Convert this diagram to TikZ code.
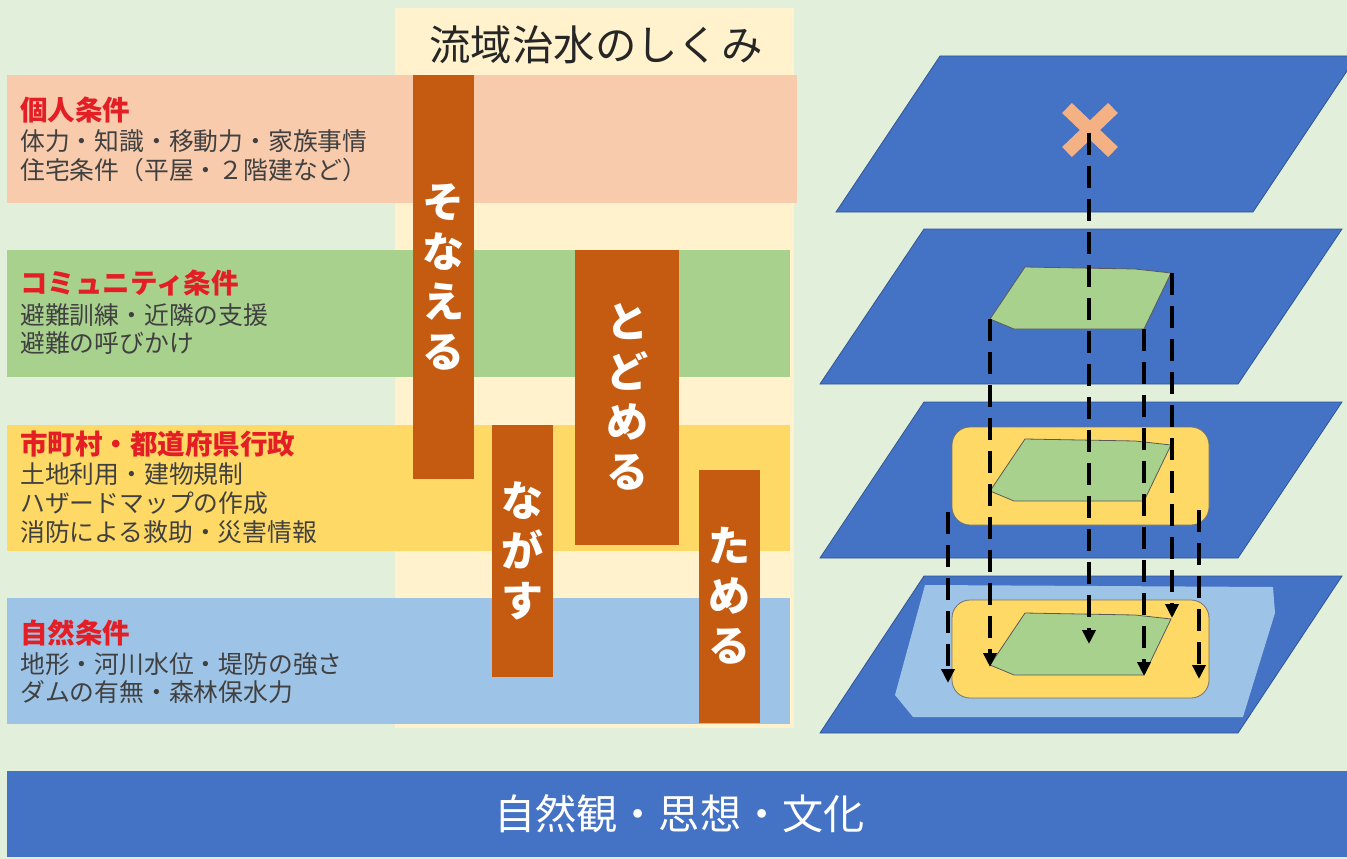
\documentclass[tikz,border=0pt]{standalone}
\usepackage{fontspec}
\setmainfont{Noto Sans CJK JP}
\usetikzlibrary{arrows.meta}
\definecolor{bg}{HTML}{E2EFDA}
\definecolor{cream}{HTML}{FFF2CC}
\definecolor{pinkband}{HTML}{F8CBAD}
\definecolor{greenband}{HTML}{A9D18E}
\definecolor{yellowband}{HTML}{FFD966}
\definecolor{blueband}{HTML}{9DC3E6}
\definecolor{barbrown}{HTML}{C55A11}
\definecolor{layerblue}{HTML}{4472C4}
\definecolor{layeredge}{HTML}{2F5597}
\definecolor{xorange}{HTML}{F4B183}
\definecolor{headred}{HTML}{E31E24}
\definecolor{bodygray}{HTML}{404040}
\definecolor{titlegray}{HTML}{262626}
\begin{document}
\begin{tikzpicture}[x=1pt,y=-1pt,
  barbox/.style={fill=barbrown, inner sep=0pt, text=white, align=center,
    font=\fontsize{42}{50}\selectfont\bfseries},
  headtext/.style={anchor=west, inner sep=0pt, text=headred,
    font=\fontsize{27.5}{30}\selectfont\bfseries},
  bodytext/.style={anchor=west, inner sep=0pt, text=bodygray,
    font=\fontsize{24.8}{28}\selectfont},
  layer/.style={fill=layerblue, draw=layeredge, line width=0.8pt},
  greenarea/.style={fill=greenband, draw=black!65, line width=0.8pt},
  yellowarea/.style={fill=yellowband, draw=black!55, line width=0.8pt, rounded corners=18pt},
  dasharrow/.style={draw=black, line width=4.6pt, dash pattern=on 22pt off 11pt,
    -{Triangle[length=14pt,width=13pt]}}
]
\useasboundingbox (0,0) rectangle (1347,859);
\fill[bg] (0,0) rectangle (1347,859);

% ---------- left part ----------
\fill[cream] (395,8) rectangle (794,728);
\node (title) [inner sep=0pt, text=titlegray, font=\fontsize{41.4}{44}\selectfont] at (596,45) {流域治水のしくみ};

\fill[pinkband]   (7,75)  rectangle (797,203);
\fill[greenband]  (7,250) rectangle (790,377);
\fill[yellowband] (7,425) rectangle (790,551);
\fill[blueband]   (7,598) rectangle (790,724);

\node (sonaeru) [barbox, minimum width=61pt, minimum height=404pt] at (443,277) {そ\\な\\え\\る};
\node (todomeru) [barbox, minimum width=104pt, minimum height=295pt] at (627,397) {と\\ど\\め\\る};
\node (nagasu) [barbox, minimum width=61pt, minimum height=252pt] at (522,551) {な\\が\\す};
\node (tameru) [barbox, minimum width=61pt, minimum height=253pt] at (729,596) {た\\め\\る};

\node (h1) [headtext] at (20,110) {個人条件};
\node (b11) [bodytext] at (20,141) {体力・知識・移動力・家族事情};
\node (b12) [bodytext] at (20,170) {住宅条件（平屋・２階建など）};

\node (h2) [headtext] at (20,283) {コミュニティ条件};
\node (b21) [bodytext] at (20,315) {避難訓練・近隣の支援};
\node (b22) [bodytext] at (20,343) {避難の呼びかけ};

\node (h3) [headtext] at (20,444) {市町村・都道府県行政};
\node (b31) [bodytext] at (20,474) {土地利用・建物規制};
\node (b32) [bodytext] at (20,503) {ハザードマップの作成};
\node (b33) [bodytext] at (20,532) {消防による救助・災害情報};

\node (h4) [headtext] at (20,633) {自然条件};
\node (b41) [bodytext] at (20,664) {地形・河川水位・堤防の強さ};
\node (b42) [bodytext] at (20,692) {ダムの有無・森林保水力};

% ---------- right part: layers ----------
\filldraw[layer] (940,56) -- (1357,56) -- (1253,212) -- (836,212) -- cycle;
\filldraw[layer] (924,229) -- (1342,229) -- (1238,384) -- (820,384) -- cycle;
\filldraw[layer] (924,402) -- (1342,402) -- (1238,558) -- (820,558) -- cycle;
\filldraw[layer] (924,576) -- (1342,576) -- (1238,733) -- (820,733) -- cycle;

% light blue area on bottom layer
\fill[blueband] (925,585) -- (1273,587) -- (1275,613) -- (1243,717) -- (913,717) -- (895,695) -- cycle;

% yellow areas
\filldraw[yellowarea] (952,427) rectangle (1209,525);
\filldraw[yellowarea] (952,600) rectangle (1209,698);

% green areas
\filldraw[greenarea] (1025,267) -- (1135,269) -- (1171,273) -- (1144,329) -- (1014,329) -- (990,319) -- cycle;
\begin{scope}[shift={(0,172)}]
\filldraw[greenarea] (1025,267) -- (1135,269) -- (1171,273) -- (1144,329) -- (1014,329) -- (990,319) -- cycle;
\end{scope}
\begin{scope}[shift={(0,346)}]
\filldraw[greenarea] (1025,267) -- (1135,269) -- (1171,273) -- (1144,329) -- (1014,329) -- (990,319) -- cycle;
\end{scope}

% cross mark
\draw[xorange, line width=14pt] (1067,108) -- (1113,152);
\draw[xorange, line width=14pt] (1113,108) -- (1067,152);

% dashed arrows
\coordinate (xc) at (1089,133);
\coordinate (xe) at (1089,644);
\coordinate (a1s) at (990,319);
\coordinate (a1e) at (990,667);
\coordinate (a2s) at (1144,329);
\coordinate (a2e) at (1144,676);
\coordinate (a3s) at (1172,273);
\coordinate (a3e) at (1172,618);
\coordinate (a4s) at (948,512);
\coordinate (a4e) at (948,683);
\coordinate (a5s) at (1199,510);
\coordinate (a5e) at (1199,679);
\draw[dasharrow] (xc) -- (xe);
\draw[dasharrow] (a1s) -- (a1e);
\draw[dasharrow] (a2s) -- (a2e);
\draw[dasharrow] (a3s) -- (a3e);
\draw[dasharrow] (a4s) -- (a4e);
\draw[dasharrow] (a5s) -- (a5e);

% ---------- bottom bar ----------
\node (culture) [fill=layerblue, inner sep=0pt, minimum width=1345pt, minimum height=86pt,
  text=white, font=\fontsize{41.2}{44}\selectfont] at (679.5,814) {自然観・思想・文化};
\end{tikzpicture}
\end{document}
